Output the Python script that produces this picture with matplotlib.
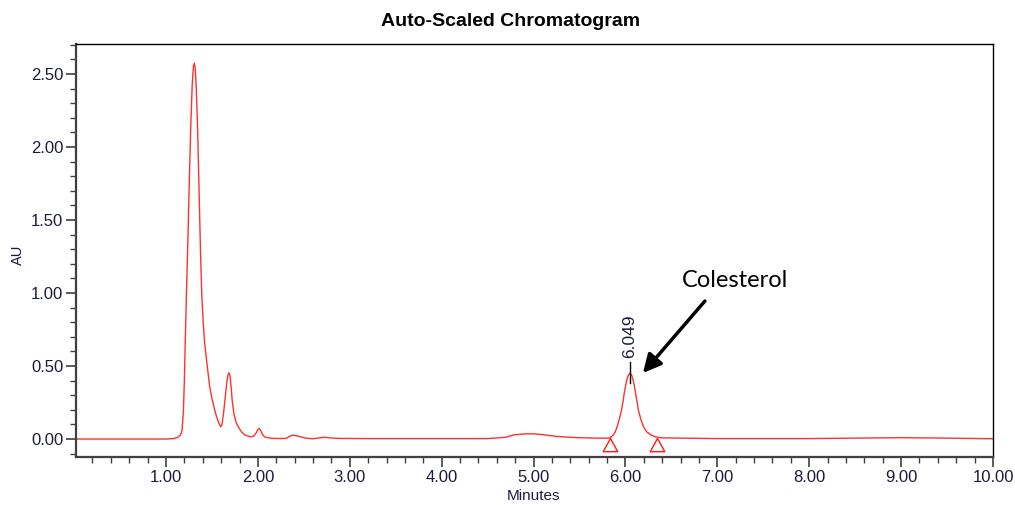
import matplotlib
matplotlib.use("Agg")
import matplotlib.pyplot as plt
from matplotlib.path import Path
from matplotlib.ticker import MultipleLocator, FormatStrFormatter

# ---- data ----
time_min = [0.02, 1.00, 1.08, 1.13, 1.16, 1.175, 1.19, 1.20, 1.21, 1.225, 1.24, 1.255,
            1.27, 1.285, 1.298, 1.308, 1.318, 1.33, 1.345, 1.36, 1.375, 1.39, 1.405,
            1.42, 1.45, 1.475, 1.504, 1.53, 1.55, 1.575, 1.595, 1.61, 1.625, 1.642,
            1.66, 1.675, 1.686, 1.697, 1.71, 1.72, 1.74, 1.765, 1.787, 1.82, 1.86,
            1.914, 1.95, 1.98, 2.00, 2.015, 2.03, 2.05, 2.08, 2.15, 2.25, 2.31, 2.35,
            2.38, 2.45, 2.52, 2.60, 2.67, 2.73, 2.80, 2.90, 3.20, 3.80, 4.50, 4.70,
            4.78, 4.90, 5.00, 5.10, 5.25, 5.45, 5.70, 5.80, 5.83, 5.867, 5.89, 5.91,
            5.935, 5.958, 5.975, 5.987, 6.00, 6.013, 6.03, 6.049, 6.068, 6.085, 6.10,
            6.11, 6.125, 6.14, 6.165, 6.195, 6.23, 6.28, 6.33, 6.40, 7.00, 8.00, 8.60,
            9.00, 9.40, 10.00]
absorbance = [0.000, 0.000, 0.003, 0.012, 0.030, 0.060, 0.20, 0.40, 0.68, 1.05, 1.40, 1.80,
              2.15, 2.42, 2.55, 2.573, 2.54, 2.40, 2.10, 1.70, 1.30, 0.98, 0.80,
              0.66, 0.495, 0.36, 0.267, 0.20, 0.153, 0.11, 0.084, 0.10, 0.17, 0.267,
              0.38, 0.44, 0.454, 0.43, 0.35, 0.267, 0.17, 0.11, 0.084, 0.05, 0.027,
              0.016, 0.018, 0.04, 0.065, 0.073, 0.06, 0.03, 0.012, 0.005, 0.003, 0.005, 0.02,
              0.027, 0.018, 0.006, 0.002, 0.008, 0.012, 0.007, 0.004, 0.003, 0.003, 0.003, 0.012,
              0.028, 0.035, 0.036, 0.030, 0.018, 0.010, 0.006, 0.006, 0.008, 0.027, 0.05, 0.085,
              0.14, 0.20, 0.26, 0.315, 0.36, 0.40, 0.437, 0.45, 0.437, 0.40, 0.355,
              0.315, 0.26, 0.20, 0.14, 0.085, 0.05, 0.027, 0.014, 0.008, 0.003, 0.003, 0.007,
              0.009, 0.007, 0.002]

peak_rt = 6.049
peak_height = 0.45
peak_label = "6.049"
baseline_marks_t = [5.83, 6.34]
baseline_marks_y = [0.006, 0.010]

compound_name = "Colesterol"
title_text = "Auto-Scaled Chromatogram"
x_label = "Minutes"
y_label = "AU"

# ---- figure ----
plt.rcParams['font.family'] = ['Liberation Sans', 'DejaVu Sans']
text_col = '#1c1c3c'

fig = plt.figure(figsize=(10.15, 5.05), dpi=100)
ax = fig.add_axes([76/1015, 1-457/505, (993-76)/1015, (457-44)/505])

ax.plot(time_min, absorbance, color='#ff1a1a', lw=1.0, alpha=0.9)

# baseline triangles (apex at the point)
tri = Path([(0, 0), (-0.55, -1), (0.55, -1), (0, 0)],
           [Path.MOVETO, Path.LINETO, Path.LINETO, Path.CLOSEPOLY])
ax.plot(baseline_marks_t, baseline_marks_y, linestyle='none', marker=tri,
        markersize=19, markerfacecolor='none', markeredgecolor='#ff1a1a',
        markeredgewidth=1.0)

# peak label
ax.plot([peak_rt, peak_rt], [peak_height + 0.077, peak_height - 0.069],
        color='black', lw=1.0)
ax.annotate(peak_label, xy=(peak_rt, peak_height), xytext=(0, 11),
            textcoords='offset points', rotation=90, ha='center', va='bottom',
            fontsize=12.5, color=text_col)

# Colesterol annotation
ax.annotate('', xy=(6.19, 0.452), xytext=(6.865, 0.945),
            arrowprops=dict(arrowstyle='-|>,head_length=1.1,head_width=0.55',
                            color='black', lw=2.5, shrinkA=0, shrinkB=0))
ax.text(7.19, 1.04, compound_name, ha='center', va='baseline',
        fontsize=17, family=['Lato', 'DejaVu Sans'], color='black')

ax.set_xlim(0.0207, 10.0)
ax.set_ylim(-0.123, 2.705)

ax.xaxis.set_major_locator(MultipleLocator(1.0))
ax.xaxis.set_minor_locator(MultipleLocator(0.2))
ax.yaxis.set_major_locator(MultipleLocator(0.5))
ax.yaxis.set_minor_locator(MultipleLocator(0.1))
ax.xaxis.set_major_formatter(FormatStrFormatter('%.2f'))
ax.yaxis.set_major_formatter(FormatStrFormatter('%.2f'))

ax.tick_params(axis='both', which='major', direction='out', length=7, width=1.2,
               color='#404040', labelsize=12, labelcolor=text_col, pad=2)
ax.tick_params(axis='both', which='minor', direction='out', length=4, width=1.0,
               color='#404040')

for s in ['left', 'bottom']:
    ax.spines[s].set_color('#404040')
    ax.spines[s].set_linewidth(1.6)
for s in ['top', 'right']:
    ax.spines[s].set_color('black')
    ax.spines[s].set_linewidth(1.0)

fig.text(511/1015, 1-22/505, title_text, ha='center', va='center',
         fontsize=14, fontweight='bold', color='black')
fig.text(533/1015, 1-496/505, x_label, ha='center', va='center',
         fontsize=11, color=text_col)
fig.text(18/1015, 1-255/505, y_label, ha='center', va='center',
         fontsize=10.5, rotation=90, color=text_col)

fig.savefig('out.png', dpi=100)
